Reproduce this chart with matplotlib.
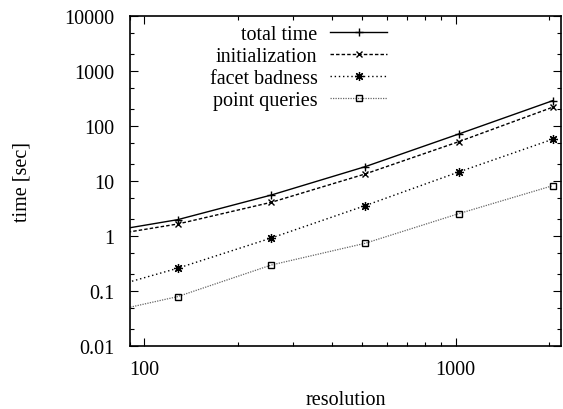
import numpy as np
import matplotlib
matplotlib.use("Agg")
import matplotlib.pyplot as plt
from matplotlib.ticker import LogLocator, FixedLocator, FuncFormatter, NullFormatter

plt.rcParams['font.family'] = ['Liberation Serif', 'DejaVu Serif']
plt.rcParams['font.size'] = 14.5

# data (first point sits left of the visible range)
resolution = [64, 128, 256, 512, 1024, 2048]
total_time = [1.02, 1.98, 5.56, 18.2, 71.6, 288]
initialization = [0.87, 1.65, 4.1, 13.4, 51.9, 219]
facet_badness = [0.085, 0.259, 0.92, 3.56, 14.6, 57.3]
point_queries = [0.033, 0.079, 0.297, 0.736, 2.55, 8.2]

x_ticks = [100, 1000]
y_ticks = [0.01, 0.1, 1, 10, 100, 1000, 10000]

fig = plt.figure(figsize=(5.63, 4.10), dpi=100)
ax = fig.add_axes([0.2309, 0.1537, 0.7655, 0.8048])

ax.plot(resolution, total_time, color='black', lw=1.0, ls='-',
        marker='+', ms=6, mew=1.0, label='total time')
ax.plot(resolution, initialization, color='black', lw=1.0, ls=(0, (2.5, 1.5)),
        marker='x', ms=4.5, mew=1.0, label='initialization')
ax.plot(resolution, facet_badness, color='black', lw=1.0, ls=(0, (1, 2)),
        marker=(8, 2, 0), ms=6.5, mew=0.9, label='facet badness')
ax.plot(resolution, point_queries, color='0.4', lw=0.9, ls=(0, (1, 1)),
        marker='s', ms=4.5, mew=1.0, mec='black', mfc='none', label='point queries')

ax.set_xscale('log')
ax.set_yscale('log')
ax.set_xlim(90, 2180)
ax.set_ylim(0.01, 10000)

ax.xaxis.set_major_locator(FixedLocator(x_ticks))
ax.xaxis.set_minor_locator(LogLocator(base=10, subs=np.arange(2, 10), numticks=20))
ax.yaxis.set_major_locator(FixedLocator(y_ticks))
ax.yaxis.set_minor_locator(LogLocator(base=10, subs=[2, 5], numticks=20))
fmt = FuncFormatter(lambda v, p: '%g' % v)
ax.xaxis.set_major_formatter(fmt)
ax.yaxis.set_major_formatter(fmt)
ax.xaxis.set_minor_formatter(NullFormatter())
ax.yaxis.set_minor_formatter(NullFormatter())

ax.tick_params(which='both', direction='in', top=True, right=True, width=0.8)
ax.tick_params(which='major', length=6)
ax.tick_params(which='minor', length=3)
ax.tick_params(axis='y', which='major', pad=11)
ax.tick_params(axis='x', which='major', pad=10)
for s in ax.spines.values():
    s.set_linewidth(1.2)

ax.set_xlabel('resolution', labelpad=8)
ax.set_ylabel('time [sec]', labelpad=24)

leg = ax.legend(loc='upper right', bbox_to_anchor=(0.596, 0.973), frameon=False,
                markerfirst=False, handlelength=2.8, handletextpad=0.65,
                labelspacing=0.14, borderpad=0, borderaxespad=0)

fig.savefig('out.png', dpi=100)
